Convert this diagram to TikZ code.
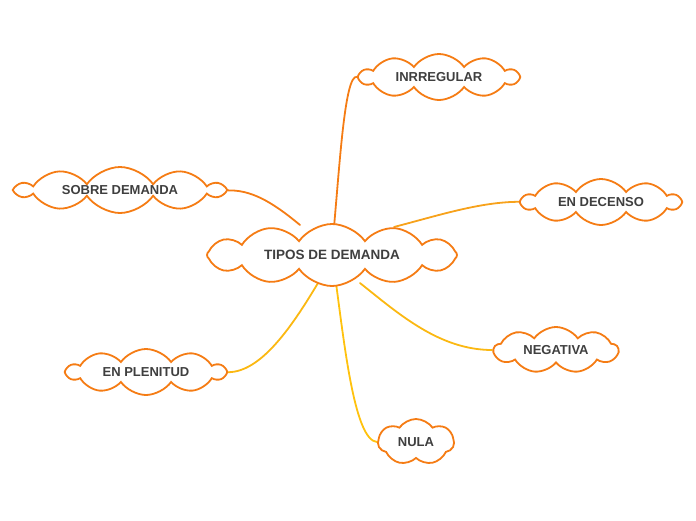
\documentclass[tikz,border=0pt]{standalone}
\usepackage{fontspec}
\setmainfont{Liberation Sans}
\usetikzlibrary{shapes.symbols,backgrounds}
\definecolor{org}{HTML}{F57C14}
\definecolor{c2}{HTML}{F7A21B}
\definecolor{c3}{HTML}{FBB812}
\definecolor{c4}{HTML}{FFC20E}
\definecolor{txt}{HTML}{3F3F3F}
\tikzset{
 cl/.style={cloud, cloud puffs=#1, cloud puff arc=110, cloud ignores aspect, draw=org, line width=1.8pt, fill=white, text=txt, font=\bfseries\fontsize{13}{15}\selectfont, inner sep=0pt},
 ln/.style={line width=1.8pt, line cap=round}
}
\begin{document}
\begin{tikzpicture}[x=1pt,y=-1pt]
\useasboundingbox (0,0) rectangle (696,520);
\node[cl=12, minimum width=250, minimum height=62, font=\bfseries\fontsize{13.5}{15}\selectfont] (c) at (332,255) {TIPOS DE DEMANDA};
\node[cl=10, minimum width=158, minimum height=46] (a) at (439,77) {INRREGULAR};
\node[cl=10, minimum width=206, minimum height=46] (b) at (120,190) {SOBRE DEMANDA};
\node[cl=10, minimum width=158, minimum height=46] (d) at (601,202) {EN DECENSO};
\node[cl=9, minimum width=124, minimum height=46] (e) at (556,350) {NEGATIVA};
\node[cl=10, minimum width=158, minimum height=46] (f) at (146,372) {EN PLENITUD};
\node[cl=7, minimum width=76, minimum height=46] (g) at (416,442) {NULA};
\begin{pgfonlayer}{background}
\draw[ln,org] (c.center)++(2,-28) .. controls (340,160) and (345,75) .. (a.west);
\draw[ln,org] (c.center)++(-32,-30) .. controls (270,200) and (250,190) .. (b.east);
\draw[ln,c2] (c.center)++(62,-28) .. controls (440,215) and (480,202) .. (d.west);
\draw[ln,c3] (c.center)++(28,28) .. controls (400,315) and (440,350) .. (e.west);
\draw[ln,c3] (c.center)++(-14,28) .. controls (290,330) and (260,372) .. (f.east);
\draw[ln,c4] (c.center)++(4,28) .. controls (345,350) and (355,440) .. (g.west);
\end{pgfonlayer}
\end{tikzpicture}
\end{document}
